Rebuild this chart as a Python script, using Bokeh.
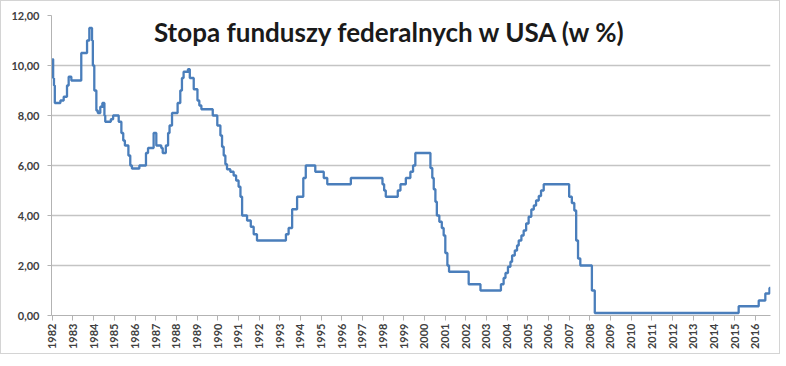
from bokeh.plotting import figure
from bokeh.models import Range1d, FixedTicker, Label
from bokeh.embed import file_html
from bokeh.resources import INLINE

# --- data (change points: year position on the axis, rate in %) ---
years = [
    1982.00, 1982.04, 1982.08, 1982.12, 1982.39, 1982.55, 1982.71, 1982.79, 1982.92,
    1983.40, 1983.68, 1983.79, 1983.92, 1983.96, 1984.03, 1984.13, 1984.20, 1984.32,
    1984.42, 1984.52, 1984.56, 1984.83, 1984.94, 1985.21, 1985.34, 1985.43, 1985.51,
    1985.68, 1985.77, 1985.85, 1986.21, 1986.53, 1986.63, 1986.90, 1987.03, 1987.27,
    1987.34, 1987.49, 1987.60, 1987.67, 1987.79, 1988.06, 1988.19, 1988.27, 1988.35,
    1988.56, 1988.65, 1988.84, 1989.02, 1989.11, 1989.21, 1989.76, 1989.98, 1990.13,
    1990.21, 1990.29, 1990.37, 1990.45, 1990.61, 1990.77, 1990.89, 1991.01, 1991.10,
    1991.18, 1991.42, 1991.60, 1991.74, 1991.90, 1993.30, 1993.43, 1993.60, 1993.84,
    1994.14, 1994.26, 1994.72, 1995.13, 1995.30, 1996.44, 1997.97, 1998.05, 1998.13,
    1998.71, 1998.84, 1999.10, 1999.32, 1999.45, 1999.56, 2000.29, 2000.38, 2000.45,
    2000.53, 2000.60, 2000.72, 2000.84, 2000.93, 2001.01, 2001.11, 2001.19, 2002.14,
    2002.71, 2003.70, 2003.83, 2003.92, 2004.04, 2004.16, 2004.24, 2004.37, 2004.48,
    2004.56, 2004.69, 2004.80, 2004.92, 2005.04, 2005.17, 2005.29, 2005.40, 2005.53,
    2005.64, 2005.77, 2007.00, 2007.13, 2007.25, 2007.34, 2007.43, 2007.54, 2008.10,
    2008.24, 2015.20, 2016.17, 2016.49, 2016.69, 2016.74,
]
rates = [
    10.25, 9.50, 9.20, 8.50, 8.60, 8.75, 9.20, 9.55, 9.40,
    10.50, 11.00, 11.50, 11.00, 10.00, 9.00, 8.20, 8.10, 8.35,
    8.50, 8.00, 7.75, 7.85, 8.00, 7.75, 7.30, 7.00, 6.80,
    6.40, 6.00, 5.88, 6.00, 6.50, 6.70, 7.30, 6.80, 6.70,
    6.50, 6.80, 7.30, 7.60, 8.10, 8.50, 9.00, 9.50, 9.75,
    9.85, 9.50, 9.05, 8.60, 8.40, 8.25, 8.00, 7.60, 7.20,
    6.75, 6.40, 6.05, 5.85, 5.75, 5.60, 5.40, 5.15, 4.75,
    4.00, 3.80, 3.55, 3.25, 3.00, 3.25, 3.50, 4.25, 4.75,
    5.50, 6.00, 5.75, 5.50, 5.25, 5.50, 5.25, 5.00, 4.75,
    5.00, 5.25, 5.50, 5.75, 6.00, 6.50, 5.90, 5.50, 5.05,
    4.55, 4.00, 3.75, 3.50, 3.20, 2.50, 2.00, 1.75, 1.25,
    1.00, 1.25, 1.50, 1.70, 1.95, 2.15, 2.40, 2.60, 2.80,
    3.00, 3.20, 3.40, 3.68, 3.95, 4.24, 4.40, 4.60, 4.78,
    5.00, 5.25, 4.75, 4.50, 4.20, 3.00, 2.28, 2.00, 1.00,
    0.10, 0.37, 0.60, 0.88, 1.10, 1.10,
]

tick_years = list(range(1982, 2017))
y_ticks = [0, 2, 4, 6, 8, 10, 12]
y_labels = ["0,00", "2,00", "4,00", "6,00", "8,00", "10,00", "12,00"]
title_text = "Stopa funduszy federalnych w USA (w %)"

p = figure(
    width=780, height=354,
    output_backend="svg", toolbar_location=None,
    x_range=Range1d(1981.96, 2016.74), y_range=Range1d(0, 12),
    min_border_left=50, min_border_right=11, min_border_top=14, min_border_bottom=40,
    background_fill_color="white", border_fill_color="white",
    styles={"border": "1px solid #d4d4d4"},
)
p.outline_line_color = None

p.step(years, rates, mode="after", line_color="#4A7EBB", line_width=2.3)

# axes
p.xaxis.ticker = FixedTicker(ticks=tick_years)
p.xaxis.major_label_overrides = {y: str(y) for y in tick_years}
p.xaxis.major_label_orientation = 3.14159265 / 2
p.xaxis.minor_tick_line_color = None
p.xaxis.axis_line_color = "#b3b3b3"
p.xaxis.major_tick_line_color = "#b3b3b3"
p.xaxis.major_tick_out = 5
p.xaxis.major_tick_in = 0
p.xaxis.major_label_standoff = 3
p.xaxis.major_label_text_font = "Lato"
p.xaxis.major_label_text_font_style = "bold"
p.xaxis.major_label_text_font_size = "11px"
p.xaxis.major_label_text_color = "#404040"

p.yaxis.ticker = FixedTicker(ticks=y_ticks)
p.yaxis.major_label_overrides = dict(zip(y_ticks, y_labels))
p.yaxis.minor_tick_line_color = None
p.yaxis.axis_line_color = "#b3b3b3"
p.yaxis.major_tick_line_color = "#b3b3b3"
p.yaxis.major_tick_out = 4
p.yaxis.major_tick_in = 0
p.yaxis.major_label_standoff = 8
p.yaxis.major_label_text_font = "Lato"
p.yaxis.major_label_text_font_style = "bold"
p.yaxis.major_label_text_font_size = "11px"
p.yaxis.major_label_text_color = "#404040"

p.xgrid.grid_line_color = None
p.ygrid.grid_line_color = "#c4c4c4"
p.ygrid.grid_line_width = 1.5

title = Label(
    x=1998.35, y=11.33, text=title_text,
    text_align="center", text_baseline="alphabetic",
    text_font="Lato", text_font_style="bold", text_font_size="26px",
    text_color="#1a1a1a",
)
p.add_layout(title)

open("out.html", "w").write(file_html(p, INLINE))
